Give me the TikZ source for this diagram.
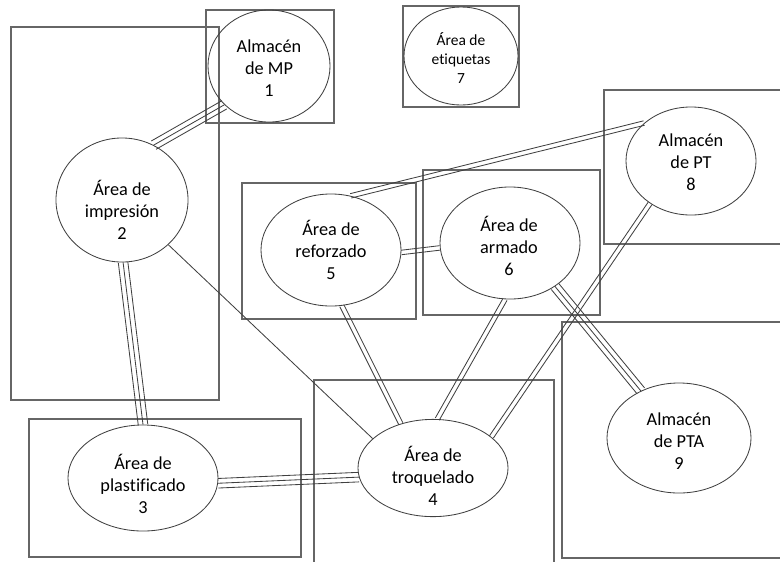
\documentclass[tikz,border=0pt]{standalone}
\usepackage{fontspec}
\setmainfont[Ligatures=NoCommon]{Carlito}
\usetikzlibrary{shapes.geometric,calc}

\begin{document}
\begin{tikzpicture}[x=0.025cm, y=-0.025cm,
    area/.style={ellipse, draw=black!75, line width=0.6pt, inner sep=0pt},
    txt/.style={align=center, inner sep=0pt, font=\fontsize{13}{15.6}\selectfont},
    zone/.style={draw=black!60, line width=0.8pt},
    link/.style={draw=black!75, line width=0.6pt},
    dbl/.style={link, to path={
        ($(\tikztostart)!1.6pt!90:(\tikztotarget)$) -- ($(\tikztotarget)!1.6pt!-90:(\tikztostart)$)
        ($(\tikztostart)!1.6pt!-90:(\tikztotarget)$) -- ($(\tikztotarget)!1.6pt!90:(\tikztostart)$)}},
    tri/.style={link, to path={
        (\tikztostart) -- (\tikztotarget)
        ($(\tikztostart)!3.4pt!90:(\tikztotarget)$) -- ($(\tikztotarget)!3.4pt!-90:(\tikztostart)$)
        ($(\tikztostart)!3.4pt!-90:(\tikztotarget)$) -- ($(\tikztotarget)!3.4pt!90:(\tikztostart)$)}},
  ]
  \useasboundingbox (0,0) rectangle (780,561);

  % Zones
  \draw[zone] (206,10) rectangle (334,123);
  \draw[zone] (11,27) rectangle (219,400);
  \draw[zone] (403,6) rectangle (519,107);
  \draw[zone] (604,90) rectangle (790,244);
  \draw[zone] (242,183) rectangle (416,319);
  \draw[zone] (423,170) rectangle (600,315);
  \draw[zone] (562,322) rectangle (790,558);
  \draw[zone] (29,419) rectangle (301,557);
  \draw[zone] (314,570) -- (314,380) -- (554,380) -- (554,570);

  % Areas
  \node[area, minimum width=3.05cm, minimum height=2.8cm] (mp) at (269,66) {};
  \node[area, minimum width=3.3cm, minimum height=3.1cm] (imp) at (122,200) {};
  \node[area, minimum width=3.75cm, minimum height=2.65cm] (pla) at (143,478) {};
  \node[area, minimum width=3.75cm, minimum height=2.43cm] (tro) at (433,468) {};
  \node[area, minimum width=3.5cm, minimum height=2.8cm] (ref) at (331,250) {};
  \node[area, minimum width=3.5cm, minimum height=2.8cm] (arm) at (510,243) {};
  \node[area, minimum width=2.85cm, minimum height=2.45cm] (eti) at (461,56) {};
  \node[area, minimum width=3.25cm, minimum height=2.7cm] (pt) at (691,161) {};
  \node[area, minimum width=3.6cm, minimum height=2.75cm] (pta) at (679,438) {};

  % Texts
  \node[txt] (mp-t) at (269,68) {Almacén\\de MP\\1};
  \node[txt] (imp-t) at (122,210) {Área de\\impresión\\2};
  \node[txt] (pla-t) at (143,484) {Área de\\plastificado\\3};
  \node[txt] (tro-t) at (433,476) {Área de\\troquelado\\4};
  \node[txt] (ref-t) at (331,250) {Área de\\reforzado\\5};
  \node[txt] (arm-t) at (509,246) {Área de\\armado\\6};
  \node[txt, font=\fontsize{11}{13.5}\selectfont] (eti-t) at (461,58) {Área de\\etiquetas\\7};
  \node[txt] (pt-t) at (691,162) {Almacén\\de PT\\8};
  \node[txt] (pta-t) at (679,441) {Almacén\\de PTA\\9};

  % Links
  \draw[tri] (mp.221) to (imp.60);
  \draw[tri] (imp.271) to (pla.90);
  \draw[tri] (pla.356) to (tro.187);
  \draw[tri] (arm.316) to (pta.129);
  \draw[dbl] (ref.358) to (arm.184);
  \draw[dbl] (ref.70) to (pt.141);
  \draw[dbl] (ref.281) to (tro.126);
  \draw[dbl] (arm.265) to (tro.85);
  \draw[dbl] (pt.226) to (tro.28);
  \draw[link] (imp.316) -- (tro.154);

\end{tikzpicture}
\end{document}
